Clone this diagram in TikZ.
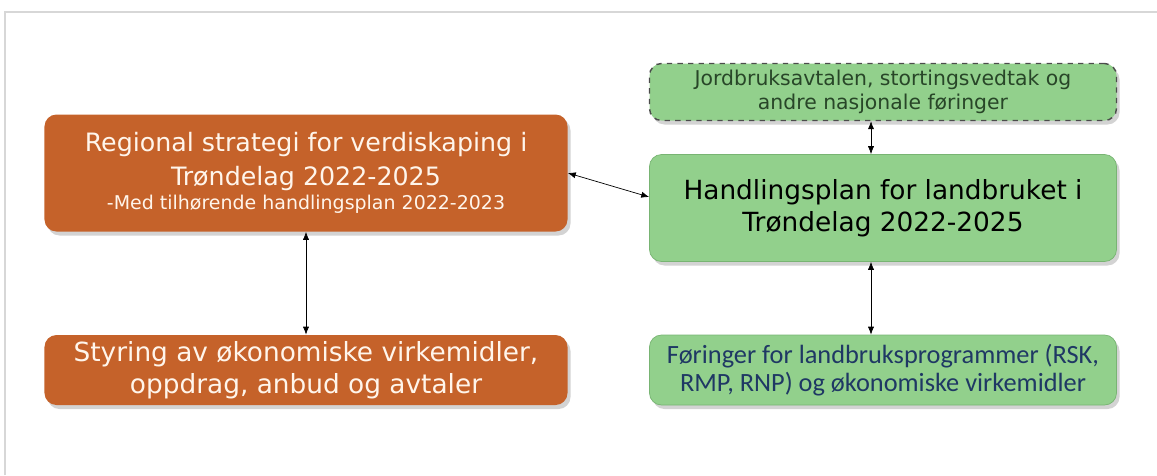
\documentclass[tikz,border=0pt]{standalone}
\usepackage{fontspec}
\usepackage{xcolor}
\usetikzlibrary{calc,arrows.meta,shadows}
\newfontfamily\verdfont{DejaVu Sans}
\newfontfamily\calibfont{Carlito}
\definecolor{orangebox}{RGB}{197,98,42}
\definecolor{greenbox}{RGB}{146,208,140}
\definecolor{greenline}{RGB}{120,180,115}
\definecolor{darkgreen}{RGB}{40,70,40}
\definecolor{darkblue}{RGB}{31,56,100}
\definecolor{framegray}{RGB}{215,215,215}

\begin{document}
\begin{tikzpicture}[x=0.2mm,y=-0.2mm,
  obox/.style={draw=none,fill=orangebox,rounded corners=2.4mm,text=white!92!orange,
    minimum width=104.6mm,align=center,drop shadow={opacity=0.35,shadow xshift=0.6mm,shadow yshift=-0.8mm}},
  gbox/.style={draw=greenline,fill=greenbox,rounded corners=2.4mm,
    minimum width=93.4mm,align=center,drop shadow={opacity=0.35,shadow xshift=0.6mm,shadow yshift=-0.8mm}},
  link/.style={{Latex[length=4.5pt,width=3.5pt]}-{Latex[length=4.5pt,width=3.5pt]},thin}]
				\useasboundingbox (0,0) rectangle (1157,475);
				\draw[framegray,line width=0.6pt] (5,475) -- (5,12) -- (1157,12);
				\node[obox,minimum height=23.4mm,font=\verdfont\fontsize{14.4}{19.5}\selectfont] (rs) at (306,173)
					{Regional strategi for verdiskaping i\\
					 Trøndelag 2022-2025\\[-2.1mm]
					 \fontsize{10.8}{14}\selectfont -Med tilhørende handlingsplan 2022-2023};
				\node[obox,minimum height=14mm,font=\verdfont\fontsize{15}{18.2}\selectfont] (sv) at (306,370)
					{Styring av økonomiske virkemidler,\\
					 oppdrag, anbud og avtaler};
				\node[gbox,dashed,draw=black!70,line width=0.8pt,minimum height=11.4mm,text=darkgreen,
					font=\verdfont\fontsize{11.6}{13.6}\selectfont] (ja) at (883,92)
					{Jordbruksavtalen, stortingsvedtak og\\
					 andre nasjonale føringer};
				\node[gbox,minimum height=21.4mm,font=\verdfont\fontsize{15}{18.5}\selectfont] (hp) at (883,208)
					{Handlingsplan for landbruket i\\
					 Trøndelag 2022-2025};
				\node[gbox,minimum height=14mm,text=darkblue,font=\calibfont\fontsize{15}{16}\selectfont] (fl) at (883,370)
					{Føringer for landbruksprogrammer (RSK,\\
					 RMP, RNP) og økonomiske virkemidler};
				\draw[link] (rs.east) -- ([yshift=2.2mm]hp.west);
				\draw[link] (rs.south) -- (sv.north);
				\draw[link] ([xshift=-2.4mm]ja.south) -- ([xshift=-2.4mm]hp.north);
				\draw[link] ([xshift=-2.4mm]hp.south) -- ([xshift=-2.4mm]fl.north);
\end{tikzpicture}
\end{document}
